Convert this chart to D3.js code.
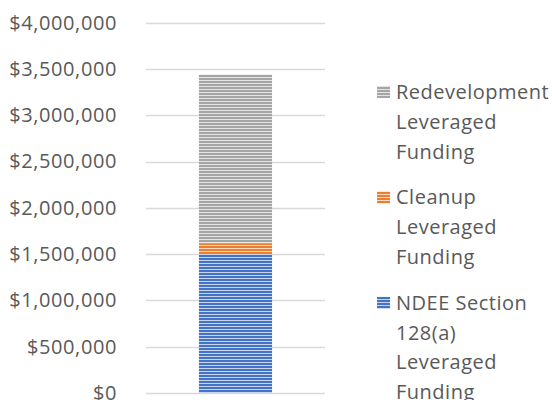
<!DOCTYPE html>
<html>
<head>
<meta charset="utf-8">
<script src="https://cdn.jsdelivr.net/npm/d3@7"></script>
<style>
  body { margin: 0; background: #ffffff; }
  text { font-family: "Open Sans", sans-serif; fill: #595959; }
</style>
</head>
<body>
<div id="chart"></div>
<script>
// data, bottom to top of the stack
var series = ["NDEE Section 128(a) Leveraged Funding", "Cleanup Leveraged Funding", "Redevelopment Leveraged Funding"];
var legendLines = [["NDEE Section", "128(a)", "Leveraged", "Funding"], ["Cleanup", "Leveraged", "Funding"], ["Redevelopment", "Leveraged", "Funding"]];
var values = [1500000, 110000, 1830000];
var colors = ["#4472c4", "#ed7d31", "#a5a5a5"];
var yTicks = [0, 500000, 1000000, 1500000, 2000000, 2500000, 3000000, 3500000, 4000000];
var category = [""];

var width = 552, height = 400;
var margin = { top: 22.6, right: 227, bottom: 7, left: 146 };

var svg = d3.select("#chart").append("svg")
  .attr("width", width)
  .attr("height", height);

// stripe patterns
var defs = svg.append("defs");
series.forEach(function(s, i) {
  var p = defs.append("pattern")
    .attr("id", "stripe" + i)
    .attr("patternUnits", "userSpaceOnUse")
    .attr("width", 6).attr("height", 3);
  p.append("rect").attr("width", 6).attr("height", 3)
    .attr("fill", d3.interpolateRgb(colors[i], "#ffffff")(0.7));
  p.append("rect").attr("width", 6).attr("height", 2)
    .attr("fill", colors[i]);
});

var x = d3.scaleBand()
  .domain(category)
  .range([margin.left, width - margin.right])
  .paddingInner(0.42)
  .paddingOuter(0.42);

var y = d3.scaleLinear()
  .domain([0, 4000000])
  .range([height - margin.bottom, margin.top]);

// gridlines
svg.append("g")
  .selectAll("line")
  .data(yTicks).enter()
  .append("line")
  .attr("x1", margin.left)
  .attr("x2", width - margin.right)
  .attr("y1", function(d) { return Math.round(y(d)) + 0.5; })
  .attr("y2", function(d) { return Math.round(y(d)) + 0.5; })
  .attr("stroke", "#d9d9d9")
  .attr("stroke-width", 1.5);

var yAxis = d3.axisLeft(y)
  .tickValues(yTicks)
  .tickSize(0)
  .tickPadding(29)
  .tickFormat(function(d) { return "$" + d3.format(",")(d); });

var ga = svg.append("g")
  .attr("transform", "translate(" + margin.left + ",0)")
  .call(yAxis);
ga.select(".domain").remove();
ga.selectAll("text")
  .style("font-family", "'Open Sans', sans-serif")
  .style("font-size", "20px")
  .style("letter-spacing", "0.6px")
  .attr("fill", "#595959");

// stacked bar
var row = {};
series.forEach(function(s, i) { row[s] = values[i]; });
var stack = d3.stack().keys(series)([row]);

svg.append("g")
  .selectAll("rect")
  .data(stack).enter()
  .append("rect")
  .attr("x", x(category[0]))
  .attr("width", x.bandwidth())
  .attr("y", function(d) { return y(d[0][1]); })
  .attr("height", function(d) { return y(d[0][0]) - y(d[0][1]); })
  .attr("fill", function(d, i) { return "url(#stripe" + i + ")"; });

// legend, top item is last series
var legendX = 377, lineH = 29.8, itemGap = 16;
var cursor = 92;
d3.range(series.length).reverse().forEach(function(i) {
  var lines = legendLines[i];
  var g = svg.append("g");
  var t = g.append("text")
    .style("font-size", "20px")
    .style("letter-spacing", "0.5px");
  lines.forEach(function(l, k) {
    t.append("tspan")
      .attr("x", legendX + 19)
      .attr("y", cursor + k * lineH)
      .attr("dy", "0.35em")
      .text(l);
  });
  g.append("rect")
    .attr("x", legendX)
    .attr("y", cursor - 6)
    .attr("width", 13)
    .attr("height", 12)
    .attr("fill", "url(#stripe" + i + ")");
  cursor += lines.length * lineH + itemGap;
});
</script>
</body>
</html>
